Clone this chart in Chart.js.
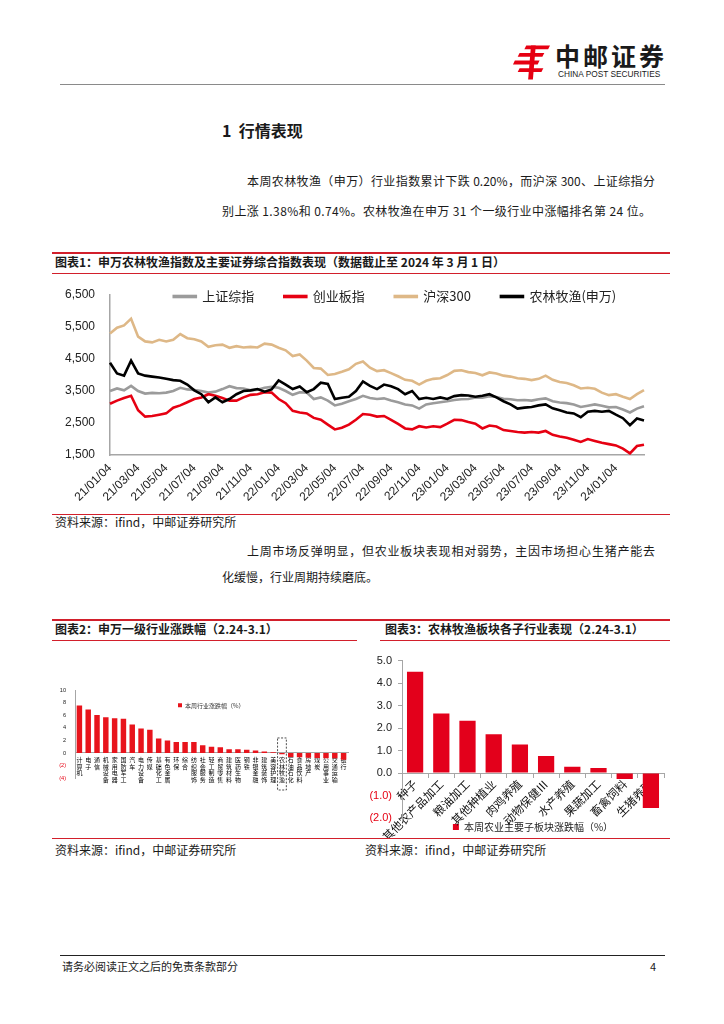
<!DOCTYPE html>
<html>
<head>
<meta charset="utf-8">
<script src="https://cdn.jsdelivr.net/npm/chart.js@4.4.1/dist/chart.umd.min.js"></script>
<style>
  body { margin: 0; width: 724px; height: 1024px; position: relative; background: #fff; overflow: hidden;
         font-family: "Noto Sans CJK SC", "Noto Sans", sans-serif; color: #1a1a1a; }
  .t { position: absolute; white-space: nowrap; line-height: 1; }
  .b { font-weight: bold; }
  .just { text-align: justify; text-align-last: justify; }
  .rule { position: absolute; height: 0; }
  canvas { position: absolute; }
</style>
</head>
<body>

<!-- 页眉 -->
<svg style="position:absolute;left:512px;top:45px" width="38" height="35" viewBox="0 0 40 36">
  <g fill="#e60012">
    <polygon points="15,0 40,0 38,4 13,4"/>
    <polygon points="8,8 34,8 32,12 6,12"/>
    <polygon points="3,16 29,16 27,20 1,20"/>
    <polygon points="8,24 33,24 31,28 6,28"/>
    <polygon points="20,0 25,0 22,36 17,36"/>
  </g>
</svg>
<div class="t b" style="left:555px;top:43px;font-size:25px;letter-spacing:3px">中邮证券</div>
<div class="t" style="left:558px;top:70px;font-size:8.3px;font-family:'Liberation Sans',sans-serif">CHINA POST SECURITIES</div>
<div class="rule" style="left:60px;top:84px;width:605px;border-top:1px solid #8a8a8a"></div>

<div class="t b" style="left:222px;top:122px;font-size:16px">1&nbsp;&nbsp;行情表现</div>
<div class="t just" style="left:247px;top:175px;width:408px;font-size:12px">本周农林牧渔（申万）行业指数累计下跌 0.20%，而沪深 300、上证综指分</div>
<div class="t" style="left:222px;top:205px;font-size:12px;letter-spacing:0.4px">别上涨 1.38%和 0.74%。农林牧渔在申万 31 个一级行业中涨幅排名第 24 位。</div>

<!-- 图表1 -->
<div class="rule" style="left:52px;top:252px;width:618px;border-top:2px solid #d21f2b"></div>
<div class="t b" style="left:55px;top:256px;font-size:12px">图表1：申万农林牧渔指数及主要证券综合指数表现（数据截止至 2024 年 3 月 1 日）</div>
<div class="rule" style="left:52px;top:273px;width:618px;border-top:1px solid #d21f2b"></div>
<canvas id="c1" width="618" height="260" style="left:52px;top:252px;width:618px;height:260px"></canvas>
<div class="rule" style="left:52px;top:514px;width:618px;border-top:1px solid #d21f2b"></div>
<div class="t" style="left:55px;top:516px;font-size:12px">资料来源：ifind，中邮证券研究所</div>

<div class="t just" style="left:247px;top:545px;width:408px;font-size:12px">上周市场反弹明显，但农业板块表现相对弱势，主因市场担心生猪产能去</div>
<div class="t" style="left:222px;top:571px;font-size:12px">化缓慢，行业周期持续磨底。</div>

<!-- 图表2 / 图表3 -->
<div class="rule" style="left:52px;top:619px;width:618px;border-top:2px solid #d21f2b"></div>
<div class="t b" style="left:55px;top:623px;font-size:12px">图表2：申万一级行业涨跌幅（2.24-3.1）</div>
<div class="t b" style="left:385px;top:623px;font-size:12px">图表3：农林牧渔板块各子行业表现（2.24-3.1）</div>
<div class="rule" style="left:52px;top:640px;width:305px;border-top:1px solid #d21f2b"></div>
<div class="rule" style="left:380px;top:640px;width:290px;border-top:1px solid #d21f2b"></div>
<canvas id="c2" width="297" height="125" style="left:55px;top:678px;width:297px;height:125px"></canvas>
<canvas id="c3" width="308" height="190" style="left:362px;top:648px;width:308px;height:190px"></canvas>
<div class="rule" style="left:52px;top:838px;width:618px;border-top:1px solid #d21f2b"></div>
<div class="t" style="left:55px;top:844px;font-size:12px">资料来源：ifind，中邮证券研究所</div>
<div class="t" style="left:365px;top:844px;font-size:12px">资料来源：ifind，中邮证券研究所</div>

<!-- 页脚 -->
<div class="rule" style="left:60px;top:955px;width:605px;border-top:1.5px solid #222"></div>
<div class="t" style="left:62px;top:961px;font-size:11px">请务必阅读正文之后的免责条款部分</div>
<div class="t" style="left:650px;top:961px;font-size:11px">4</div>

<script>
// 字体
Chart.defaults.font.family = "'Liberation Sans', 'Noto Sans CJK SC', sans-serif";
Chart.defaults.color = '#222';

// ---- 图表1 数据 ----
const dates = [
  '21/01/04','21/01/18','21/02/04','21/02/18','21/03/04','21/03/18','21/04/04','21/04/18','21/05/04','21/05/18','21/06/04','21/06/18',
  '21/07/04','21/07/18','21/08/04','21/08/18','21/09/04','21/09/18','21/10/04','21/10/18','21/11/04','21/11/18','21/12/04','21/12/18',
  '22/01/04','22/01/18','22/02/04','22/02/18','22/03/04','22/03/18','22/04/04','22/04/18','22/05/04','22/05/18','22/06/04','22/06/18',
  '22/07/04','22/07/18','22/08/04','22/08/18','22/09/04','22/09/18','22/10/04','22/10/18','22/11/04','22/11/18','22/12/04','22/12/18',
  '23/01/04','23/01/18','23/02/04','23/02/18','23/03/04','23/03/18','23/04/04','23/04/18','23/05/04','23/05/18','23/06/04','23/06/18',
  '23/07/04','23/07/18','23/08/04','23/08/18','23/09/04','23/09/18','23/10/04','23/10/18','23/11/04','23/11/18','23/12/04','23/12/18',
  '24/01/04','24/01/18','24/02/04','24/02/18','24/03/01'
];
const xTickLabels = ['21/01/04','21/03/04','21/05/04','21/07/04','21/09/04','21/11/04',
  '22/01/04','22/03/04','22/05/04','22/07/04','22/09/04','22/11/04',
  '23/01/04','23/03/04','23/05/04','23/07/04','23/09/04','23/11/04','24/01/04'];
const yTicks1 = [1500, 2500, 3500, 4500, 5500, 6500];

const szzs = [ // 上证综指
  3500,3580, 3520,3660, 3500,3420, 3440,3430, 3450,3500, 3600,3550, 3530,3500, 3450,3480, 3560,3650, 3590,3580, 3520,3540, 3600,3630,
  3600,3500, 3380,3460, 3450,3250, 3300,3200, 3050,3100, 3180,3250, 3350,3280, 3250,3270, 3200,3150, 3080,3050, 2950,3080, 3120,3150,
  3180,3220, 3240,3250, 3300,3290, 3340,3310, 3260,3240, 3210,3220, 3200,3240, 3270,3180, 3140,3120, 3080,3000, 3040,3080, 3040,2990,
  3000,2920, 2830,2950, 3020
];
const cybz = [ // 创业板指
  3100,3200, 3280,3350, 2900,2700, 2720,2760, 2800,2980, 3050,3150, 3250,3300, 3400,3350, 3280,3200, 3200,3300, 3380,3400, 3460,3450,
  3250,3120, 2880,2830, 2800,2660, 2600,2450, 2300,2350, 2450,2600, 2780,2760, 2700,2720, 2600,2470, 2330,2300, 2400,2360, 2400,2370,
  2480,2600, 2590,2530, 2480,2330, 2420,2390, 2280,2250, 2220,2200, 2220,2200, 2250,2130, 2080,2040, 1980,1910, 2000,1940, 1880,1840,
  1800,1700, 1550,1780, 1820
];
const hs300 = [ // 沪深300
  5300,5480, 5550,5760, 5200,5050, 5020,5100, 5050,5100, 5280,5150, 5120,5050, 4880,4930, 4950,4850, 4900,4860, 4880,4860, 4980,4950,
  4850,4770, 4590,4640, 4450,4220, 4200,4000, 4030,4100, 4180,4350, 4420,4230, 4120,4150, 4060,3960, 3850,3820, 3700,3820, 3880,3900,
  4000,4130, 4150,4090, 4060,3990, 4080,4050, 3980,3950, 3900,3880, 3840,3880, 3980,3850, 3780,3750, 3680,3580, 3600,3570, 3450,3370,
  3400,3320, 3250,3400, 3530
];
const nlmy = [ // 农林牧渔(申万)
  4380,4050, 3980,4450, 4050,3980, 3950,3920, 3880,3840, 3820,3700, 3520,3400, 3150,3300, 3150,3250, 3400,3500, 3520,3560, 3480,3550,
  3830,3700, 3560,3640, 3460,3560, 3760,3720, 3250,3290, 3320,3500, 3800,3660, 3560,3700, 3650,3560, 3400,3500, 3250,3290, 3250,3300,
  3250,3340, 3370,3360, 3320,3350, 3400,3300, 3180,3080, 2950,2980, 3000,3050, 3080,2960, 2900,2830, 2800,2680, 2850,2880, 2850,2880,
  2760,2650, 2430,2640, 2580
];

// ---- 图表2 数据 ----
const industries = ['计算机','电子','通信','机械设备','家用电器','国防军工','汽车','电力设备','传媒','基础化工','有色金属',
  '环保','综合','纺织服饰','社会服务','轻工制造','商贸零售','建筑材料','医药生物','钢铁','非银金融','建筑装饰','美容护理',
  '农林牧渔','石油石化','食品饮料','房地产','煤炭','公用事业','交通运输','银行'];
const industryChg = [7.6, 6.95, 6.05, 5.7, 5.55, 5.45, 4.55, 3.9, 3.7, 2.3, 2.0, 1.75, 1.75, 1.75, 1.25, 1.0, 0.9, 0.6, 0.6,
  0.5, 0.4, 0.25, 0.1, -0.2, -0.65, -0.7, -0.75, -0.8, -0.85, -0.85, -1.1];
const yTicks2 = [-4, -2, 0, 2, 4, 6, 8, 10];

// ---- 图表3 数据 ----
const subSectors = ['种子','其他农产品加工','粮油加工','其他种植业','肉鸡养殖','动物保健Ⅲ','水产养殖','果蔬加工','畜禽饲料','生猪养殖'];
const subChg = [4.5, 2.65, 2.32, 1.72, 1.27, 0.76, 0.28, 0.22, -0.27, -1.55];
const yTicks3 = [-2, -1, 0, 1, 2, 3, 4, 5];

const RED = '#e60012';
const AXIS = '#a6a6a6';
const CJK = "'Noto Sans CJK SC', sans-serif";

// 负数用括号、红色
const negColor = (c) => (c.tick && c.tick.value < 0 ? RED : '#222');

// 图例位置微调（布局完成后移动图例框）
function placeLegend(fn) {
  return {
    id: 'placeLegend',
    afterLayout(chart) {
      const lg = chart.legend;
      const { dx, dy } = fn(chart, lg);
      lg.left += dx; lg.right += dx;
      lg.top += dy; lg.bottom += dy;
    }
  };
}

// 图表1：折线
new Chart(document.getElementById('c1'), {
  type: 'line',
  data: {
    labels: dates,
    datasets: [
      { label: '上证综指', data: szzs, borderColor: '#9b9b9b', backgroundColor: '#9b9b9b', order: 2 },
      { label: '创业板指', data: cybz, borderColor: RED, backgroundColor: RED, order: 1 },
      { label: '沪深300', data: hs300, borderColor: '#deb887', backgroundColor: '#deb887', order: 3 },
      { label: '农林牧渔(申万)', data: nlmy, borderColor: '#000', backgroundColor: '#000', order: 0 }
    ]
  },
  options: {
    responsive: false,
    animation: false,
    elements: { line: { borderWidth: 2.6, tension: 0 }, point: { radius: 0 } },
    layout: { padding: { right: 26 } },
    plugins: {
      tooltip: { enabled: false },
      legend: {
        position: 'top',
        fullSize: false,
        maxHeight: 43,
        labels: {
          boxWidth: 22, boxHeight: 1, padding: 30, color: '#222', font: { size: 13, family: CJK },
          sort: (a, b) => a.datasetIndex - b.datasetIndex
        }
      }
    },
    scales: {
      x: {
        grid: { display: false, drawTicks: false },
        border: { color: AXIS, width: 1.5 },
        ticks: {
          autoSkip: false, minRotation: 45, maxRotation: 45, padding: 6,
          font: { size: 12 }, color: '#222',
          callback: function (v) {
            const l = this.getLabelForValue(v);
            return xTickLabels.includes(l) ? l : '';
          }
        },
        afterFit: (s) => { s.height = 57; }
      },
      y: {
        min: 1500, max: 6500,
        grid: { display: false, drawTicks: false },
        border: { color: AXIS, width: 1.5 },
        afterBuildTicks: (s) => { s.ticks = yTicks1.map((v) => ({ value: v })); },
        ticks: { padding: 15, font: { size: 12 }, color: '#222', callback: (v) => v.toLocaleString('en-US') },
        afterFit: (s) => { s.width = 58; }
      }
    }
  },
  plugins: [placeLegend((chart, lg) => ({
    dx: 343 - (lg.left + lg.right) / 2,
    dy: chart.chartArea.top + 1.5 - (lg.top + lg.options.labels.padding + 6.5)
  }))]
});

// 图表2：申万一级行业
const hiIndex = industries.indexOf('农林牧渔');
new Chart(document.getElementById('c2'), {
  type: 'bar',
  data: {
    labels: industries.map((s) => Array.from(s)),
    datasets: [{ label: '本周行业涨跌幅（%）', data: industryChg, backgroundColor: '#e8141c',
                 barPercentage: 0.62, categoryPercentage: 1 }]
  },
  options: {
    responsive: false,
    animation: false,
    layout: { padding: { top: 11, bottom: 25, right: 4 } },
    plugins: {
      tooltip: { enabled: false },
      legend: { position: 'chartArea', align: 'start',
                labels: { boxWidth: 4, boxHeight: 4, padding: 4, color: '#333', font: { size: 6, family: CJK } } }
    },
    scales: {
      x: {
        position: { y: 0 },
        z: 1,
        grid: { display: false, drawTicks: false },
        border: { color: AXIS },
        ticks: { autoSkip: false, minRotation: 0, maxRotation: 0, padding: 4, color: '#000',
                 font: { size: 6, lineHeight: 1.08, family: CJK } },
        afterFit: (s) => { s.height = 0; }
      },
      y: {
        min: -4, max: 10,
        grid: { display: false, drawTicks: false },
        border: { color: AXIS },
        afterBuildTicks: (s) => { s.ticks = yTicks2.map((v) => ({ value: v })); },
        ticks: { padding: 9, font: { size: 5.6 }, color: negColor, callback: (v) => (v < 0 ? '(' + (-v) + ')' : String(v)) },
        afterFit: (s) => { s.width = 20; }
      }
    }
  },
  plugins: [
    placeLegend((chart, lg) => ({
      dx: chart.chartArea.left + 99 - lg.left,
      dy: chart.chartArea.top + 8 - lg.top
    })),
    {
      id: 'hiBox',
      afterDraw(chart) {
        const { ctx, scales: { x, y }, chartArea } = chart;
        const w = x.width / industries.length;
        const cx = x.getPixelForValue(hiIndex);
        const top = y.getPixelForValue(0) - 15;
        const bottom = chartArea.bottom + 12;
        ctx.save();
        ctx.strokeStyle = '#222';
        ctx.lineWidth = 0.8;
        ctx.setLineDash([2, 1.5]);
        ctx.strokeRect(cx - w / 2, top, w, bottom - top);
        ctx.restore();
      }
    }
  ]
});

// 图表3：农林牧渔子行业
new Chart(document.getElementById('c3'), {
  type: 'bar',
  data: {
    labels: subSectors,
    datasets: [{ label: '本周农业主要子板块涨跌幅（%）', data: subChg, backgroundColor: '#e3001b',
                 barPercentage: 0.62, categoryPercentage: 1 }]
  },
  options: {
    responsive: false,
    animation: false,
    layout: { padding: { top: 10, right: 6, bottom: 6 } },
    plugins: {
      tooltip: { enabled: false },
      legend: { position: 'bottom', fullSize: false, maxHeight: 14,
                labels: { boxWidth: 6, boxHeight: 6, padding: 4, color: '#222', font: { size: 10, family: CJK } } }
    },
    scales: {
      x: {
        position: { y: 0 },
        z: 1,
        grid: { display: true, drawOnChartArea: false, tickLength: 4, color: AXIS },
        border: { color: AXIS },
        ticks: { autoSkip: false, minRotation: 45, maxRotation: 45, padding: 0, color: '#111',
                 font: { size: 11.5, family: CJK } },
        afterFit: (s) => { s.height = 0; }
      },
      y: {
        min: -2, max: 5,
        grid: { display: true, drawOnChartArea: false, tickLength: 4, color: AXIS },
        border: { color: AXIS },
        afterBuildTicks: (s) => { s.ticks = yTicks3.map((v) => ({ value: v })); },
        ticks: { padding: 6, font: { size: 11 }, color: negColor,
                 callback: (v) => (v < 0 ? '(' + (-v).toFixed(1) + ')' : v.toFixed(1)) },
        afterFit: (s) => { s.width = 40; }
      }
    }
  }
});
</script>
</body>
</html>
